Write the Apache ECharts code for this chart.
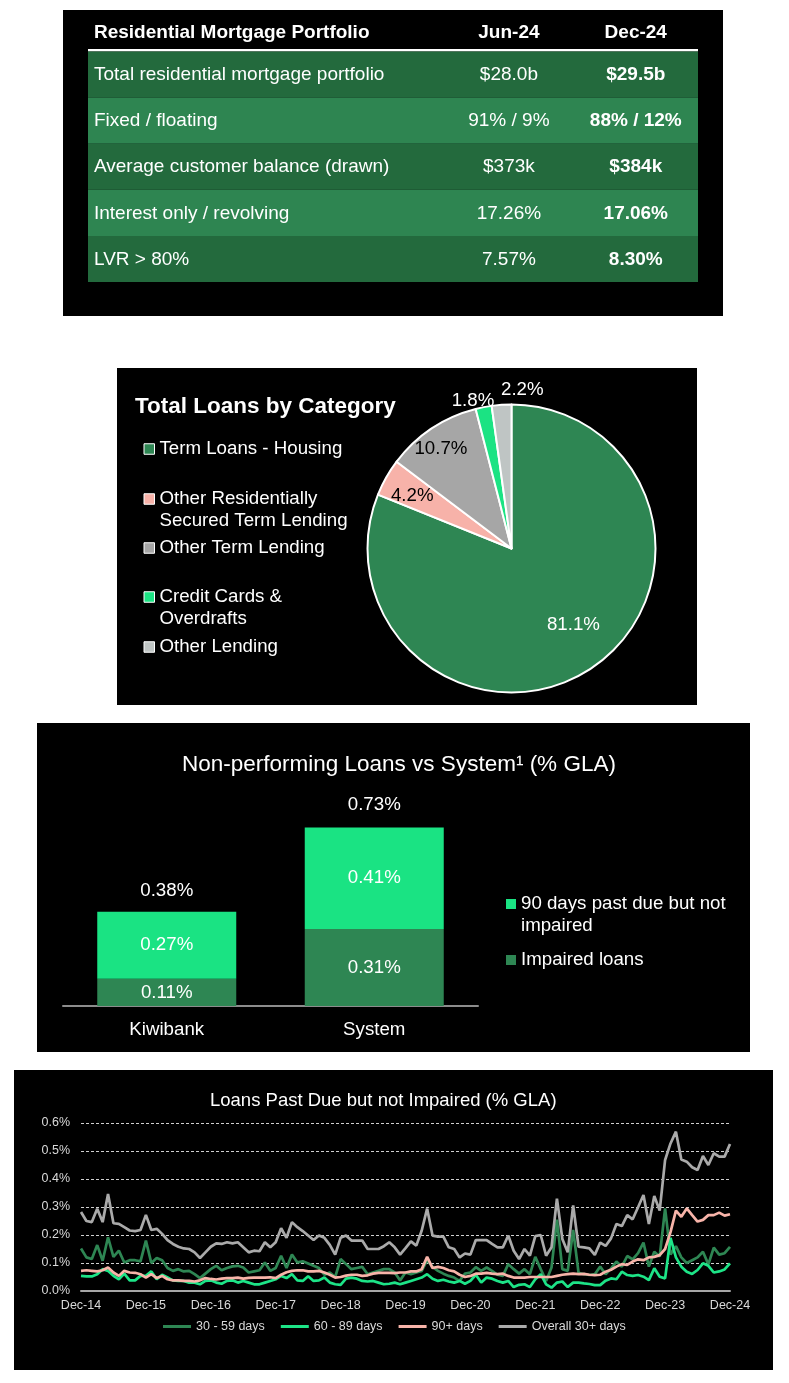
<!DOCTYPE html>
<html>
<head>
<meta charset="utf-8">
<title>Residential lending overview</title>
<script src="https://cdn.jsdelivr.net/npm/echarts@6/dist/echarts.min.js"></script>
<style>
  html, body { margin: 0; padding: 0; background: #fff; }
  body { position: relative; width: 789px; height: 1383px; overflow: hidden; }
  .panel { position: absolute; background: #000; }
</style>
</head>
<body>
<div id="mortgage" class="panel" style="left:63px;top:10px;width:660px;height:306px"></div>
<div id="loans" class="panel" style="left:117px;top:368px;width:580px;height:337px"></div>
<div id="npl" class="panel" style="left:37px;top:723px;width:713px;height:329px"></div>
<div id="pastdue" class="panel" style="left:14px;top:1070px;width:759px;height:300px"></div>
<script>
const FONT = '"Liberation Sans", Arial, sans-serif';

// ---- table: residential mortgage portfolio
const tableHeader = ['Residential Mortgage Portfolio', 'Jun-24', 'Dec-24'];
const rowLabels = [
  'Total residential mortgage portfolio',
  'Fixed / floating',
  'Average customer balance (drawn)',
  'Interest only / revolving',
  'LVR > 80%'
];
const jun24 = ['$28.0b', '91% / 9%', '$373k', '17.26%', '7.57%'];
const dec24 = ['$29.5b', '88% / 12%', '$384k', '17.06%', '8.30%'];

// ---- pie: total loans by category
const loanCategories = [
  'Term Loans - Housing',
  'Other Residentially\nSecured Term Lending',
  'Other Term Lending',
  'Credit Cards &\nOverdrafts',
  'Other Lending'
];
const loanShares = [81.1, 4.2, 10.7, 1.8, 2.2];

// ---- stacked bars: non-performing loans
const nplCategories = ['Kiwibank', 'System'];
const impairedLoans = [0.11, 0.31];
const pastDue90 = [0.27, 0.41];
const nplTotals = [0.38, 0.73];

// ---- lines: loans past due but not impaired, monthly Dec-14 .. Dec-24
const monthNames = ['Jan', 'Feb', 'Mar', 'Apr', 'May', 'Jun', 'Jul', 'Aug', 'Sep', 'Oct', 'Nov', 'Dec'];
const lpdMonths = [];
for (let k = 0; k <= 120; k++) {
  lpdMonths.push(monthNames[(11 + k) % 12] + '-' + (14 + Math.floor((11 + k) / 12)));
}
const days30to59 = [
  0.152, 0.12, 0.114, 0.164, 0.108, 0.192, 0.122, 0.144, 0.102, 0.11,
  0.11, 0.106, 0.18, 0.1, 0.118, 0.11, 0.082, 0.072, 0.078, 0.07,
  0.072, 0.06, 0.046, 0.062, 0.078, 0.09, 0.074, 0.082, 0.088, 0.09,
  0.084, 0.066, 0.07, 0.074, 0.102, 0.072, 0.082, 0.126, 0.082, 0.13,
  0.102, 0.106, 0.098, 0.09, 0.082, 0.058, 0.066, 0.05, 0.114, 0.096,
  0.078, 0.082, 0.086, 0.06, 0.066, 0.072, 0.078, 0.078, 0.066, 0.038,
  0.066, 0.06, 0.066, 0.072, 0.11, 0.086, 0.072, 0.062, 0.054, 0.048,
  0.036, 0.062, 0.066, 0.085, 0.072, 0.084, 0.072, 0.058, 0.054, 0.096,
  0.078, 0.062, 0.078, 0.06, 0.122, 0.078, 0.036, 0.084, 0.255, 0.078,
  0.072, 0.218, 0.065, 0.06, 0.057, 0.06, 0.087, 0.06, 0.08, 0.105,
  0.087, 0.125, 0.113, 0.135, 0.173, 0.087, 0.14, 0.123, 0.295, 0.13,
  0.16, 0.12, 0.1, 0.11, 0.12, 0.14, 0.095, 0.155, 0.13, 0.135, 0.158
];
const days60to89 = [
  0.054, 0.052, 0.052, 0.06, 0.078, 0.072, 0.054, 0.042, 0.062, 0.038,
  0.038, 0.054, 0.054, 0.07, 0.042, 0.058, 0.048, 0.038, 0.036, 0.036,
  0.03, 0.03, 0.024, 0.036, 0.038, 0.03, 0.026, 0.036, 0.038, 0.03,
  0.036, 0.03, 0.024, 0.024, 0.03, 0.036, 0.042, 0.054, 0.046, 0.06,
  0.038, 0.036, 0.053, 0.036, 0.038, 0.048, 0.03, 0.024, 0.022, 0.044,
  0.048, 0.044, 0.036, 0.034, 0.036, 0.03, 0.024, 0.026, 0.03, 0.024,
  0.03, 0.036, 0.042, 0.048, 0.06, 0.044, 0.036, 0.04, 0.034, 0.03,
  0.036, 0.026, 0.036, 0.058, 0.03, 0.048, 0.044, 0.036, 0.03, 0.036,
  0.014, 0.022, 0.024, 0.014, 0.042, 0.06, 0.024, 0.012, 0.03, 0.034,
  0.014, 0.03, 0.03, 0.027, 0.025, 0.021, 0.021, 0.037, 0.045, 0.042,
  0.069, 0.057, 0.054, 0.057, 0.051, 0.039, 0.081, 0.051, 0.045, 0.19,
  0.12, 0.087, 0.069, 0.061, 0.075, 0.099, 0.09, 0.066, 0.07, 0.077, 0.099
];
const days90plus = [
  0.072, 0.074, 0.072, 0.07, 0.074, 0.084, 0.066, 0.054, 0.072, 0.066,
  0.065, 0.06, 0.048, 0.06, 0.046, 0.054, 0.042, 0.038, 0.038, 0.036,
  0.036, 0.034, 0.038, 0.046, 0.043, 0.041, 0.044, 0.046, 0.046, 0.048,
  0.044, 0.047, 0.048, 0.048, 0.048, 0.049, 0.046, 0.058, 0.067, 0.072,
  0.074, 0.074, 0.07, 0.07, 0.072, 0.066, 0.058, 0.048, 0.05, 0.055,
  0.058, 0.058, 0.054, 0.056, 0.062, 0.065, 0.065, 0.065, 0.064, 0.066,
  0.066, 0.07, 0.07, 0.078, 0.122, 0.082, 0.086, 0.082, 0.074, 0.07,
  0.058, 0.05, 0.054, 0.062, 0.062, 0.065, 0.062, 0.06, 0.062, 0.054,
  0.048, 0.048, 0.048, 0.05, 0.05, 0.05, 0.05, 0.05, 0.054, 0.058,
  0.06, 0.062, 0.06, 0.061, 0.058, 0.057, 0.058, 0.069, 0.076, 0.087,
  0.096, 0.093, 0.105, 0.113, 0.11, 0.12, 0.122, 0.128, 0.15, 0.21,
  0.287, 0.265, 0.295, 0.271, 0.248, 0.254, 0.271, 0.271, 0.28, 0.269, 0.274
];
const overall30plus = [
  0.282, 0.25, 0.246, 0.294, 0.246, 0.346, 0.242, 0.24, 0.228, 0.216,
  0.214, 0.218, 0.272, 0.218, 0.222, 0.204, 0.182, 0.168, 0.158, 0.152,
  0.15, 0.138, 0.118, 0.138, 0.158, 0.17, 0.168, 0.174, 0.17, 0.174,
  0.156, 0.138, 0.144, 0.142, 0.174, 0.156, 0.174, 0.224, 0.19, 0.246,
  0.228, 0.214, 0.198, 0.182, 0.198, 0.19, 0.165, 0.13, 0.19, 0.198,
  0.18, 0.18, 0.18, 0.15, 0.15, 0.15, 0.16, 0.174, 0.156, 0.13,
  0.153, 0.177, 0.162, 0.216, 0.294, 0.198, 0.194, 0.194, 0.156, 0.15,
  0.12, 0.134, 0.13, 0.182, 0.182, 0.182, 0.168, 0.156, 0.156, 0.198,
  0.144, 0.114, 0.15, 0.126, 0.196, 0.2, 0.126, 0.156, 0.33, 0.186,
  0.138, 0.306, 0.158, 0.156, 0.152, 0.129, 0.173, 0.161, 0.188, 0.239,
  0.232, 0.271, 0.256, 0.299, 0.343, 0.239, 0.339, 0.287, 0.468, 0.527,
  0.569, 0.47, 0.462, 0.442, 0.432, 0.482, 0.45, 0.492, 0.48, 0.48, 0.525
];

// ======================= table =======================
const colAnchor = [0.0098, 0.69, 0.898]; // where each column sits across the table
const colAlign = ['left', 'center', 'center'];
const rowFill = ['#236A3D', '#2E8551'];

const mortgageChart = echarts.init(document.getElementById('mortgage'));
mortgageChart.setOption({
  animation: false,
  grid: { left: 25, right: 25, top: 41.5, height: 230.5 },
  xAxis: { type: 'value', min: 0, max: 1, show: false },
  yAxis: { type: 'category', data: rowLabels, inverse: true, show: false },
  series: [
    {
      type: 'custom',
      name: 'header',
      data: [[0, 0]],
      renderItem: function (params, api) {
        const cs = params.coordSys;
        const kids = [{
          type: 'rect',
          shape: { x: cs.x, y: cs.y - 2.5, width: cs.width, height: 2.5 },
          style: { fill: '#fff' }
        }];
        tableHeader.forEach(function (t, k) {
          kids.push({
            type: 'text',
            style: {
              text: t, x: api.coord([colAnchor[k], 0])[0], y: cs.y - 18.5,
              align: colAlign[k], verticalAlign: 'middle', fill: '#fff',
              fontSize: 19, fontWeight: 'bold', fontFamily: FONT
            }
          });
        });
        return { type: 'group', children: kids };
      }
    },
    {
      type: 'custom',
      name: 'rows',
      data: rowLabels.map(function (_, i) { return [0, i]; }),
      renderItem: function (params, api) {
        const row = api.value(1);
        const left = api.coord([0, row]);
        const right = api.coord([1, row]);
        const h = api.size([0, 1])[1];
        const cells = [rowLabels[row], jun24[row], dec24[row]];
        const kids = [{
          type: 'rect',
          shape: { x: left[0], y: left[1] - h / 2, width: right[0] - left[0], height: h },
          style: { fill: rowFill[row % 2] }
        }];
        cells.forEach(function (t, k) {
          kids.push({
            type: 'text',
            style: {
              text: t, x: api.coord([colAnchor[k], row])[0], y: left[1] + 0.5,
              align: colAlign[k], verticalAlign: 'middle', fill: '#fff',
              fontSize: 19, fontWeight: k === 2 ? 'bold' : 'normal', fontFamily: FONT
            }
          });
        });
        return { type: 'group', children: kids };
      }
    }
  ]
});

// two-line legend names get a blank first line so the marker sits on the first text line
const firstLineLegend = function (name) {
  return name.indexOf('\n') >= 0 ? '\n' + name : name;
};

// ======================= pie =======================
const loanColors = ['#2E8653', '#F7B2A9', '#A6A6A6', '#1BE383', '#BFC5C4'];
const loanLabelColors = ['#fff', '#000', '#000', '#fff', '#fff'];
const loanLabelNudge = [[20, 14], [-34, -16], [-29, -37], [-24, -74], [16, -84]];
const loanLegendTops = [70, 98, 169, 196, 268];

const loansChart = echarts.init(document.getElementById('loans'));
loansChart.setOption({
  animation: false,
  title: {
    text: 'Total Loans by Category', left: 18, top: 26, padding: 0,
    textStyle: { color: '#fff', fontSize: 22.5, fontWeight: 'bold', fontFamily: FONT, lineHeight: 26 }
  },
  legend: loanCategories.map(function (name, i) {
    return {
      data: [name], formatter: firstLineLegend,
      left: 26.5, top: loanLegendTops[i], padding: 0, selectedMode: false,
      icon: 'rect', itemWidth: 10.5, itemHeight: 10.5,
      itemStyle: { borderColor: '#fff', borderWidth: 1 },
      textStyle: { color: '#fff', fontSize: 18.7, fontFamily: FONT, lineHeight: 22 }
    };
  }),
  series: [{
    type: 'pie',
    center: [394.5, 180.5],
    radius: 144,
    startAngle: 90,
    clockwise: true,
    emphasis: { disabled: true },
    itemStyle: { borderColor: '#fff', borderWidth: 2 },
    label: {
      position: 'inside', fontSize: 18.7, fontFamily: FONT,
      formatter: function (p) { return p.value.toFixed(1) + '%'; }
    },
    labelLine: { show: false },
    labelLayout: function (p) {
      return { dx: loanLabelNudge[p.dataIndex][0], dy: loanLabelNudge[p.dataIndex][1] };
    },
    data: loanCategories.map(function (name, i) {
      return {
        name: name, value: loanShares[i],
        itemStyle: { color: loanColors[i] },
        label: { color: loanLabelColors[i] }
      };
    })
  }]
});

// ======================= stacked bars =======================
const pd90Name = '90 days past due but not\nimpaired';
const pctLabel = function (p) { return p.value.toFixed(2) + '%'; };
const nplLegendBase = {
  left: 469, padding: 0, selectedMode: false, icon: 'rect', itemWidth: 10, itemHeight: 10,
  formatter: firstLineLegend,
  textStyle: { color: '#fff', fontSize: 18.7, fontFamily: FONT, lineHeight: 22 }
};

const nplChart = echarts.init(document.getElementById('npl'));
nplChart.setOption({
  animation: false,
  title: {
    text: 'Non-performing Loans vs System\u00B9 (% GLA)', left: 145, top: 29, padding: 0,
    textStyle: { color: '#fff', fontSize: 22.5, fontWeight: 'normal', fontFamily: FONT, lineHeight: 26 }
  },
  legend: [
    Object.assign({}, nplLegendBase, { top: 148, data: [pd90Name] }),
    Object.assign({}, nplLegendBase, { top: 226, data: ['Impaired loans'] })
  ],
  grid: { left: 26, width: 415, top: 35, bottom: 46 },
  xAxis: {
    type: 'category', data: nplCategories,
    axisLine: { lineStyle: { color: '#8C8C8C', width: 2 } },
    axisTick: { show: false },
    axisLabel: { color: '#fff', fontSize: 18.7, fontFamily: FONT, margin: 14 }
  },
  yAxis: { type: 'value', min: 0, max: 1, show: false },
  series: [
    {
      name: 'Impaired loans', type: 'bar', stack: 'npl', data: impairedLoans, barWidth: 139,
      itemStyle: { color: '#2E8653' },
      label: { show: true, position: 'inside', color: '#fff', fontSize: 18.7, fontFamily: FONT, formatter: pctLabel }
    },
    {
      name: pd90Name, type: 'bar', stack: 'npl', data: pastDue90, barWidth: 139,
      itemStyle: { color: '#1AE383' },
      label: { show: true, position: 'inside', color: '#fff', fontSize: 18.7, fontFamily: FONT, formatter: pctLabel }
    },
    {
      name: 'total', type: 'bar', data: nplTotals, barWidth: 139, barGap: '-100%', silent: true, z: 1,
      itemStyle: { color: 'rgba(0,0,0,0)' },
      label: { show: true, position: 'top', distance: 11, color: '#fff', fontSize: 18.7, fontFamily: FONT, formatter: pctLabel }
    }
  ]
});

// ======================= lines =======================
const lpdNames = ['30 - 59 days', '60 - 89 days', '90+ days', 'Overall 30+ days'];
const lpdValues = [days30to59, days60to89, days90plus, overall30plus];
const lpdColors = ['#2E8653', '#1DE487', '#F8B4A9', '#AAAAAA'];

const pastDueChart = echarts.init(document.getElementById('pastdue'));
pastDueChart.setOption({
  animation: false,
  title: {
    text: 'Loans Past Due but not Impaired (% GLA)', left: 196, top: 20, padding: 0,
    textStyle: { color: '#fff', fontSize: 18.5, fontWeight: 'normal', fontFamily: FONT, lineHeight: 22 }
  },
  legend: {
    data: lpdNames, left: 149, top: 250, padding: 0, itemGap: 16, selectedMode: false,
    icon: 'rect', itemWidth: 28, itemHeight: 3,
    textStyle: { color: '#D9D9D9', fontSize: 12.5, fontFamily: FONT }
  },
  grid: { left: 67, right: 43, top: 53, bottom: 79 },
  xAxis: {
    type: 'category', data: lpdMonths, boundaryGap: false,
    axisLine: { lineStyle: { color: '#A6A6A6', width: 2 } },
    axisTick: { show: false },
    axisLabel: { interval: 11, color: '#D9D9D9', fontSize: 12.5, fontFamily: FONT, margin: 8 }
  },
  yAxis: {
    type: 'value', min: 0, max: 0.6, interval: 0.1,
    axisLine: { show: false }, axisTick: { show: false },
    axisLabel: {
      color: '#D9D9D9', fontSize: 12.5, fontFamily: FONT, margin: 11,
      formatter: function (v) { return v.toFixed(1) + '%'; }
    },
    splitLine: { lineStyle: { color: '#CFCFCF', width: 1, type: [3, 2] } }
  },
  series: lpdNames.map(function (name, i) {
    return {
      name: name, type: 'line', data: lpdValues[i], symbol: 'none',
      lineStyle: { color: lpdColors[i], width: 2.7 },
      itemStyle: { color: lpdColors[i] }
    };
  })
});
</script>
</body>
</html>
